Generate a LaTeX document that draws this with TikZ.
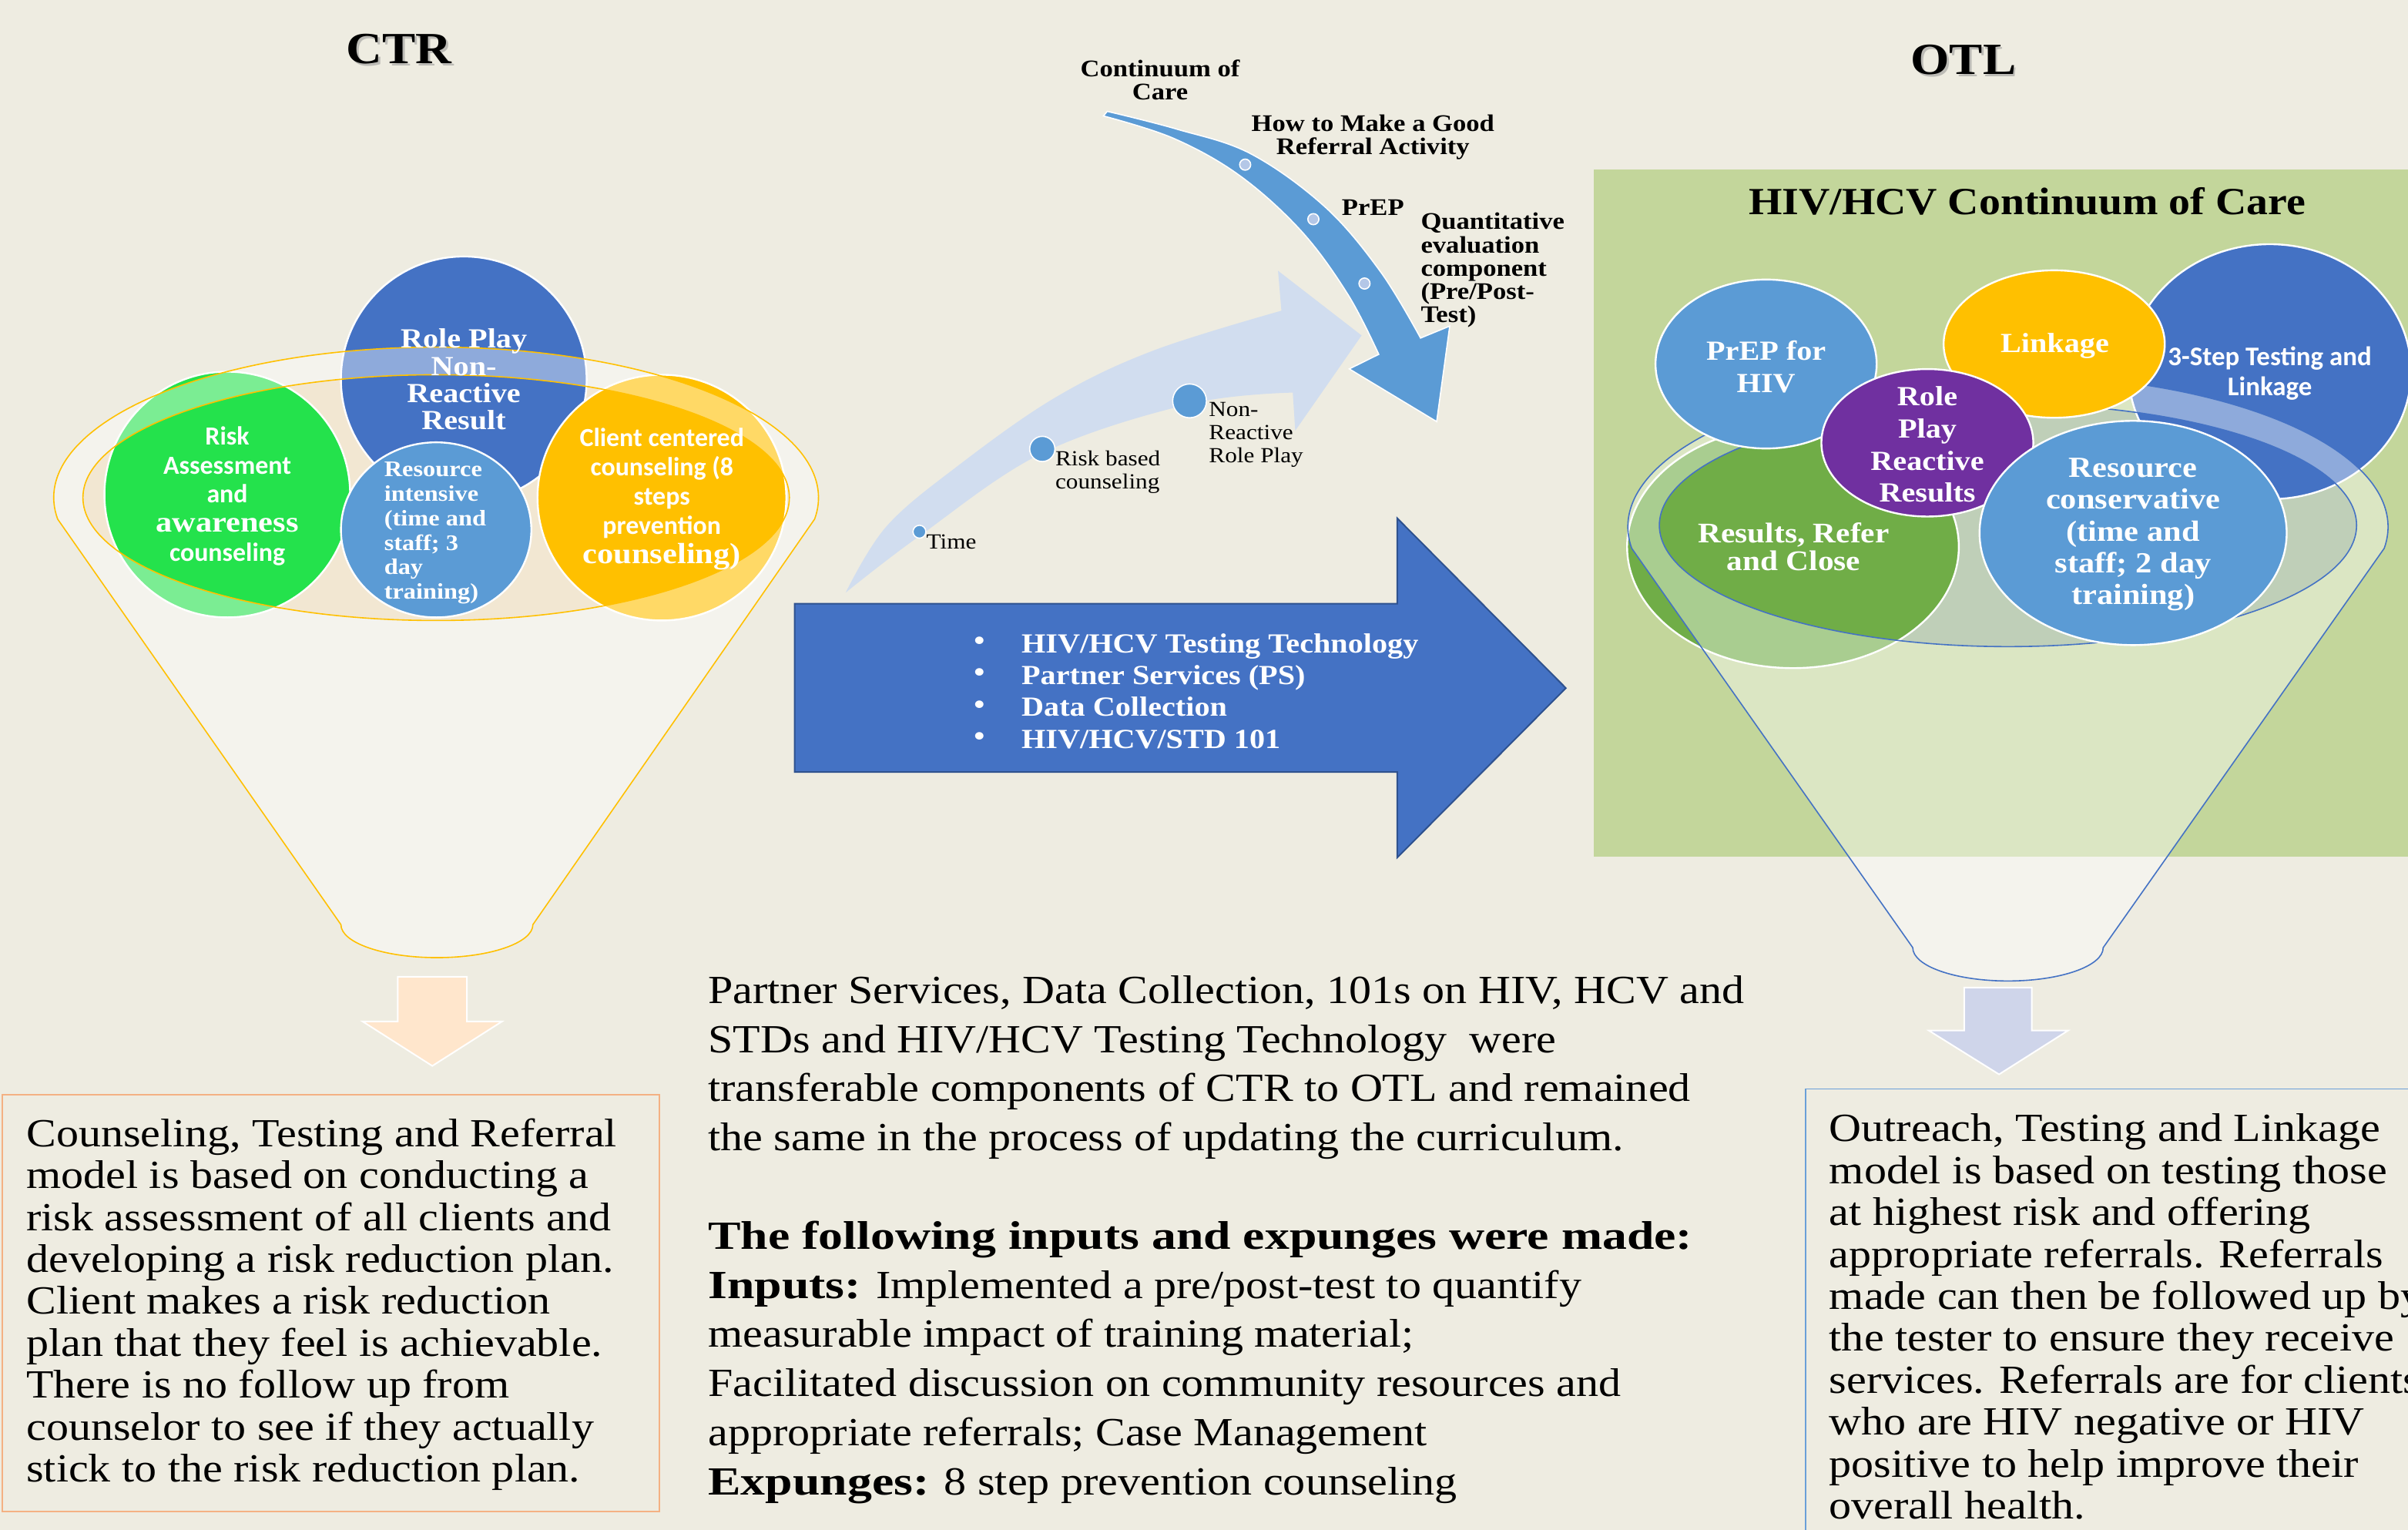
\documentclass[tikz,border=0pt]{standalone}
\usepackage{fontspec}
\setmainfont{Liberation Serif}[FakeStretch=1.12]
\newfontfamily\wb{Liberation Serif}[FakeStretch=1.23]
\newfontfamily\carl{Carlito}
\definecolor{bgc}{HTML}{EEECE1}
\definecolor{blueA}{HTML}{4472C4}
\definecolor{blueB}{HTML}{5B9BD5}
\definecolor{greenA}{HTML}{24E24C}
\definecolor{yellowA}{HTML}{FFC000}
\definecolor{purpleA}{HTML}{7030A0}
\definecolor{greenB}{HTML}{70AD47}
\definecolor{panelc}{HTML}{C3D69B}
\definecolor{peach}{HTML}{FFE6CC}
\definecolor{lav}{HTML}{CFD5EA}
\definecolor{lboxc}{HTML}{F4B183}
\definecolor{rboxc}{HTML}{6A9FD8}
\definecolor{ltint}{HTML}{F6E3C4}
\definecolor{rtint}{HTML}{BCCAD6}
\definecolor{paleArr}{HTML}{D1DDEF}
\definecolor{dotc}{HTML}{B4C7E7}
\definecolor{arrb}{HTML}{2F528F}
\newcommand\fs[2]{\fontsize{#1}{#2}\selectfont}
\newcommand\wbf[1]{{\wb\bfseries #1}}
\tikzset{
  blob/.style={draw=white, line width=1.2pt},
  wtxt/.style={inner sep=0pt, text=white, align=center},
  btxt/.style={inner sep=0pt, text=black, align=center},
  ring/.style={fill=white, fill opacity=0.4, even odd rule},
}
\begin{document}
\begin{tikzpicture}[x=1pt,y=-1pt]
\useasboundingbox (0,0) rectangle (1568,996);
\fill[bgc] (0,0) rectangle (1568,996);
% green panel
\fill[panelc] (1038,110.5) rectangle (1568,558);

% ---------------- LEFT FUNNEL ----------------
\fill[ltint, opacity=0.5] (284,324) ellipse [x radius=230, y radius=80];
\filldraw[fill=blueA, blob] (302,247) ellipse [x radius=80, y radius=80];
\filldraw[fill=greenA, blob] (148,322) ellipse [x radius=80, y radius=80];
\filldraw[fill=yellowA, blob] (431,324) ellipse [x radius=81, y radius=80];
\filldraw[fill=blueB, blob] (284,345) ellipse [x radius=62, y radius=57];
\fill[ring] (37.55,338) arc[start angle=171.8, end angle=368.2, x radius=249, y radius=98]
   -- (347,602) arc[start angle=0, end angle=180, x radius=62.5, y radius=21.5] -- cycle
   (284,324) ellipse [x radius=230, y radius=80];
\draw[yellowA, line width=0.8pt] (37.55,338) arc[start angle=171.8, end angle=368.2, x radius=249, y radius=98]
   -- (347,602) arc[start angle=0, end angle=180, x radius=62.5, y radius=21.5] -- cycle;
\draw[yellowA, line width=0.8pt] (284,324) ellipse [x radius=230, y radius=80];

\node[wtxt, font=\fs{18}{17.7}\bfseries] (rp) at (302,247) {Role Play\\Non-\\Reactive\\Result};
\node[wtxt, font=\fs{17}{19}\bfseries\carl] (ra) at (148,323) {Risk\\Assessment\\and\\{\rmfamily\fs{19}{19}awareness}\\counseling};
\node[wtxt, font=\fs{17}{19}\bfseries\carl] (cc) at (431,325) {Client centered\\counseling (8\\steps\\prevention\\{\rmfamily\fs{19}{19}counseling)}};
\node[wtxt, align=left, anchor=west, font=\fs{14.5}{16}\bfseries] (ri) at (250,347) {Resource\\intensive\\(time and\\staff; 3\\day\\training)};

% ---------------- RIGHT FUNNEL ----------------
\fill[rtint, opacity=0.5] (1307.5,342) ellipse [x radius=227, y radius=79];
\filldraw[fill=greenB, blob] (1167.5,356) ellipse [x radius=108, y radius=79];
\filldraw[fill=blueA, blob] (1478,242) ellipse [x radius=92, y radius=83];
\fill[ring] (1062.5,357) arc[start angle=171.87, end angle=368.13, x radius=247.5, y radius=99]
   -- (1369.5,617) arc[start angle=0, end angle=180, x radius=62, y radius=21.7] -- cycle
   (1307.5,342) ellipse [x radius=227, y radius=79];
\draw[blueA, line width=0.8pt] (1062.5,357) arc[start angle=171.87, end angle=368.13, x radius=247.5, y radius=99]
   -- (1369.5,617) arc[start angle=0, end angle=180, x radius=62, y radius=21.7] -- cycle;
\draw[blueA, line width=0.8pt] (1307.5,342) ellipse [x radius=227, y radius=79];
\filldraw[fill=blueB, blob] (1150,237) ellipse [x radius=72, y radius=55];
\filldraw[fill=yellowA, blob] (1337.6,224) ellipse [x radius=72, y radius=48];
\filldraw[fill=purpleA, blob] (1255,288.3) ellipse [x radius=69, y radius=48];
\filldraw[fill=blueB, blob] (1389,347) ellipse [x radius=100, y radius=73];

\node[wtxt, font=\fs{18}{21}\bfseries] (prep) at (1150,239) {PrEP for\\HIV};
\node[wtxt, font=\fs{18}{21}\bfseries] (link) at (1338,225) {Linkage};
\node[wtxt, font=\fs{17.5}{19.5}\bfseries\carl] (step) at (1478,243) {3-Step Testing and\\Linkage};
\node[wtxt, font=\fs{18}{20.9}\bfseries] (rpr) at (1255,289.5) {Role\\Play\\Reactive\\Results};
\node[wtxt, font=\fs{18.5}{18}\bfseries] (rrc) at (1168,356) {Results, Refer\\and Close};
\node[wtxt, font=\fs{19}{20.7}\bfseries] (rcon) at (1389,348) {Resource\\conservative\\(time and\\staff; 2 day\\training)};
\node[btxt, font=\fs{25}{25}\bfseries] (ptitle) at (1320,131) {HIV/HCV Continuum of Care};

% ---------------- TITLES ----------------
\node[text=black!45, opacity=0.5, font=\fs{29}{29}\bfseries] (ctrs) at (261.3,33.3) {CTR};
\node[font=\fs{29}{29}\bfseries] (ctr) at (260,32) {CTR};
\node[text=black!45, opacity=0.5, font=\fs{29}{29}\bfseries] (otls) at (1279.8,40.3) {OTL};
\node[font=\fs{29}{29}\bfseries] (otl) at (1278.5,39) {OTL};

% ---------------- CURVED ARROWS ----------------
\fill[paleArr] plot[smooth, tension=0.6] coordinates {(550.7,385.8) (577,343) (622.7,304.1) (686.7,259.1) (750.6,228.4) (834.4,202.3)}
   -- (832.2,176.3) -- (886.6,218.4) -- (843.4,280.4) -- (841.8,255.6)
   -- plot[smooth, tension=0.6] coordinates {(841.8,255.6) (774.6,263) (678.7,295) (598.7,349) (550.7,385.8)} -- cycle;
\filldraw[fill=blueB, draw=white, line width=0.8pt] plot[smooth, tension=0.6] coordinates {(721,72.5) (766,84) (814.4,100.1) (863,134.9) (899.2,177.3) (925,220.1)}
   -- (944,212.3) -- (935.5,274.5) -- (878.6,240.2) -- (897.8,230.7)
   -- plot[smooth, tension=0.6] coordinates {(897.8,230.7) (877.8,191.9) (847.4,150.5) (807.2,114.3) (764,90) (718.5,75.5)} -- cycle;
\filldraw[fill=dotc, draw=white, line width=0.8pt] (810.8,107.2) circle[radius=3.6];
\filldraw[fill=dotc, draw=white, line width=0.8pt] (855.2,142.7) circle[radius=3.6];
\filldraw[fill=dotc, draw=white, line width=0.8pt] (888.5,184.6) circle[radius=3.6];
\filldraw[fill=blueB, draw=white, line width=0.8pt] (598.7,346.2) circle[radius=4.2];
\filldraw[fill=blueB, draw=white, line width=0.8pt] (678.7,292.3) circle[radius=8.2];
\filldraw[fill=blueB, draw=white, line width=0.8pt] (774.6,261) circle[radius=11];

\node[btxt, font=\fs{15.5}{15}\bfseries] (coc) at (755.4,52) {Continuum of\\Care};
\node[btxt, font=\fs{15.5}{15}\bfseries] (howto) at (894,89.5) {How to Make a Good\\Referral Activity};
\node[btxt, font=\fs{15.5}{15}\bfseries] (prepl) at (894,134.9) {PrEP};
\node[btxt, align=left, anchor=west, font=\fs{15.5}{15.2}\bfseries] (quant) at (925,176) {Quantitative\\evaluation\\component\\(Pre/Post-\\Test)};
\node[btxt, anchor=west, font=\fs{14}{15}] (timel) at (603,353) {Time};
\node[btxt, align=left, anchor=west, font=\fs{14}{15}] (riskl) at (687,307.5) {Risk based\\counseling};
\node[btxt, align=left, anchor=west, font=\fs{14}{15}] (nrl) at (787,283) {Non-\\Reactive\\Role Play};

% ---------------- BIG ARROW ----------------
\filldraw[fill=blueA, draw=arrb, line width=1pt] (517.4,393) -- (909.8,393) -- (909.8,337.4) -- (1019.6,448)
   -- (909.8,558.4) -- (909.8,502.6) -- (517.4,502.6) -- cycle;
\node[wtxt, align=left, anchor=west, font=\fs{18}{20.7}\bfseries] (bul) at (634,450) {\textbullet\\\textbullet\\\textbullet\\\textbullet};
\node[wtxt, align=left, anchor=west, font=\fs{18}{20.7}\bfseries] (btx) at (665,450) {HIV/HCV Testing Technology\\Partner Services (PS)\\Data Collection\\HIV/HCV/STD 101};

% ---------------- DOWN ARROWS ----------------
\filldraw[fill=peach, draw=white, line width=1pt] (259,636) -- (304,636) -- (304,665) -- (327,665) -- (281.5,694) -- (236,665) -- (259,665) -- cycle;
\filldraw[fill=lav, draw=white, line width=1pt] (1279,643) -- (1323,643) -- (1323,671) -- (1346.6,671) -- (1301.7,699.5) -- (1256,671) -- (1279,671) -- cycle;

% ---------------- TEXT BOXES ----------------
\draw[lboxc, line width=1pt] (1.5,713) rectangle (429.6,984);
\draw[rboxc, line width=1pt] (1175.6,709) rectangle (1600,1010);

\node[btxt, align=left, anchor=north west, font=\fs{26}{27.3}] (ltext) at (17,728) {Counseling, Testing and Referral\\model is based on conducting a\\risk assessment of all clients and\\developing a risk reduction plan.\\Client makes a risk reduction\\plan that they feel is achievable.\\There is no follow up from\\counselor to see if they actually\\stick to the risk reduction plan.};

\node[btxt, align=left, anchor=north west, font=\fs{26}{32}] (ctext) at (461,635) {Partner Services, Data Collection, 101s on HIV, HCV and\\STDs and HIV/HCV Testing Technology\ \ were\\transferable components of CTR to OTL and remained\\the same in the process of updating the curriculum.\\[32pt]\wbf{The following inputs and expunges were made:}\\\wbf{Inputs:} Implemented a pre/post-test to quantify\\measurable impact of training material;\\Facilitated discussion on community resources and\\appropriate referrals; Case Management\\\wbf{Expunges:} 8 step prevention counseling};

\node[btxt, align=left, anchor=north west, font=\fs{26}{27.3}] (rtext) at (1191,725) {Outreach, Testing and Linkage\\model is based on testing those\\at highest risk and offering\\appropriate referrals. Referrals\\made can then be followed up by\\the tester to ensure they receive\\services. Referrals are for clients\\who are HIV negative or HIV\\positive to help improve their\\overall health.};
\end{tikzpicture}
\end{document}
